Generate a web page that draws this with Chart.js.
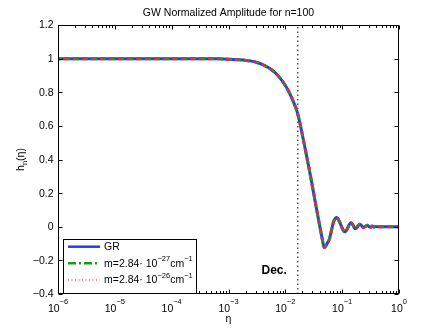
<!DOCTYPE html>
<html><head><meta charset="utf-8">
<script src="https://cdn.jsdelivr.net/npm/chart.js@4/dist/chart.umd.min.js"></script>
<style>html,body{margin:0;padding:0;background:#fff}#wrap{width:440px;height:331px}</style>
</head><body><div id="wrap"><canvas id="c" width="440" height="331"></canvas></div>
<script>
const titleText = 'GW Normalized Amplitude for n=100';
const xAxisLabel = 'η';
const yAxisLabel = ['h', 'n', '(η)'];
// log10(eta) sample positions
const logEta = [-6, -5, -4, -3.5, -3.2, -3.0, -2.8, -2.6, -2.5, -2.4, -2.3, -2.2, -2.1, -2.0, -1.95, -1.9, -1.85, -1.8, -1.75, -1.7, -1.65, -1.6, -1.55, -1.5, -1.45, -1.4, -1.36, -1.335, -1.314, -1.29, -1.26, -1.227, -1.19, -1.156, -1.13, -1.105, -1.08, -1.04, -1.0, -0.975, -0.951, -0.925, -0.9, -0.87, -0.845, -0.82, -0.795, -0.775, -0.75, -0.72, -0.687, -0.66, -0.629, -0.6, -0.559, -0.53, -0.5, -0.47, -0.44, -0.41, -0.38, -0.2, 0];
const hGR  = [1, 1, 1, 1, 0.999, 0.997, 0.993, 0.985, 0.977, 0.965, 0.947, 0.922, 0.887, 0.840, 0.81, 0.776, 0.737, 0.692, 0.627, 0.546, 0.462, 0.377, 0.289, 0.197, 0.104, 0.014, -0.056, -0.100, -0.124, -0.115, -0.097, -0.075, -0.025, 0.025, 0.045, 0.055, 0.050, 0.025, -0.008, -0.024, -0.030, -0.022, -0.005, 0.015, 0.024, 0.016, 0.0, -0.012, -0.008, 0.006, 0.015, 0.007, -0.004, 0.0, 0.009, 0.002, -0.003, 0.004, -0.002, 0.002, 0, 0, 0];
const hM27 = [1, 1, 1, 1, 0.999, 0.997, 0.993, 0.985, 0.977, 0.965, 0.947, 0.922, 0.887, 0.840, 0.81, 0.776, 0.737, 0.692, 0.627, 0.546, 0.462, 0.377, 0.289, 0.197, 0.104, 0.014, -0.056, -0.100, -0.124, -0.115, -0.097, -0.075, -0.025, 0.025, 0.045, 0.055, 0.050, 0.025, -0.008, -0.024, -0.030, -0.022, -0.005, 0.015, 0.024, 0.016, 0.0, -0.012, -0.008, 0.006, 0.015, 0.007, -0.004, 0.0, 0.009, 0.002, -0.003, 0.004, -0.002, 0.002, 0, 0, 0];
const hM26 = [1, 1, 1, 1, 0.999, 0.997, 0.993, 0.985, 0.977, 0.965, 0.947, 0.922, 0.887, 0.840, 0.81, 0.776, 0.737, 0.692, 0.627, 0.546, 0.462, 0.377, 0.289, 0.197, 0.104, 0.014, -0.056, -0.100, -0.124, -0.115, -0.097, -0.075, -0.025, 0.025, 0.045, 0.055, 0.050, 0.025, -0.008, -0.024, -0.030, -0.022, -0.005, 0.015, 0.024, 0.016, 0.0, -0.012, -0.008, 0.006, 0.015, 0.007, -0.004, 0.0, 0.009, 0.002, -0.003, 0.004, -0.002, 0.002, 0, 0, 0];
const xTickExps = [-6, -5, -4, -3, -2, -1, 0];
const yTickValues = [-0.4, -0.2, 0, 0.2, 0.4, 0.6, 0.8, 1, 1.2];
const etaDec = 0.0166;
const decLabel = 'Dec.';
const legendEntries = [
  {base: 'GR'},
  {base: 'm=2.84· 10', sup1: '−27', mid: 'cm', sup2: '−1'},
  {base: 'm=2.84· 10', sup1: '−26', mid: 'cm', sup2: '−1'}
];

const FONT = '"Liberation Sans", Arial, Helvetica, sans-serif';
const toPts = arr => arr.map((h, i) => ({x: Math.pow(10, logEta[i]), y: h}));

const decorations = {
  id: 'decorations',
  afterDraw(chart) {
    const ctx = chart.ctx, a = chart.chartArea, xs = chart.scales.x, ys = chart.scales.y;
    const L = Math.round(a.left) + 0.5, R = Math.round(a.right) - 0.5, T = Math.round(a.top) + 0.5, B = Math.round(a.bottom) - 0.5;
    ctx.save();
    ctx.strokeStyle = '#000'; ctx.lineWidth = 1;
    ctx.strokeRect(L, T, R - L, B - T);
    ctx.beginPath();
    yTickValues.forEach(v => {
      const y = Math.round(ys.getPixelForValue(v)) + 0.5;
      ctx.moveTo(L, y); ctx.lineTo(L + 4, y);
      ctx.moveTo(R, y); ctx.lineTo(R - 4, y);
    });
    xTickExps.forEach(e => {
      const x = Math.round(xs.getPixelForValue(Math.pow(10, e))) + 0.5;
      ctx.moveTo(x, B); ctx.lineTo(x, B - 4);
      ctx.moveTo(x, T); ctx.lineTo(x, T + 4);
      if (e < 0) for (let k = 2; k <= 9; k++) {
        const xm = Math.round(xs.getPixelForValue(k * Math.pow(10, e))) + 0.5;
        ctx.moveTo(xm, B); ctx.lineTo(xm, B - 2.5);
        ctx.moveTo(xm, T); ctx.lineTo(xm, T + 2.5);
      }
    });
    ctx.stroke();
    ctx.fillStyle = '#000';
    // y tick labels
    ctx.textBaseline = 'middle';
    ctx.textAlign = 'right';
    ctx.font = '10.5px ' + FONT;
    yTickValues.forEach(v => {
      const r = Math.round(v * 10) / 10;
      const s = (r < 0 ? '−' : '') + String(Math.abs(r));
      ctx.fillText(s, 53.5, ys.getPixelForValue(v) + 0.5);
    });
    // x tick labels with superscripts
    xTickExps.forEach(e => {
      const x = xs.getPixelForValue(Math.pow(10, e));
      const sup = e === 0 ? '0' : '−' + Math.abs(e);
      ctx.font = '10.5px ' + FONT; const w1 = ctx.measureText('10').width;
      ctx.font = '7.5px ' + FONT; const w2 = ctx.measureText(sup).width;
      const x0 = x - (w1 + w2) / 2;
      ctx.textAlign = 'left';
      ctx.font = '10.5px ' + FONT; ctx.fillText('10', x0, 309.5);
      ctx.font = '7.5px ' + FONT; ctx.fillText(sup, x0 + w1, 302);
    });
    ctx.textAlign = 'center';
    ctx.font = '10.5px ' + FONT;
    ctx.fillText(titleText, (a.left + a.right) / 2, 13.5);
    ctx.fillText(xAxisLabel, (a.left + a.right) / 2, 319.5);
    ctx.save();
    ctx.translate(21, (a.top + a.bottom) / 2);
    ctx.rotate(-Math.PI / 2);
    ctx.font = '10.5px ' + FONT; const wh = ctx.measureText(yAxisLabel[0]).width; const wp = ctx.measureText(yAxisLabel[2]).width;
    ctx.font = '7.5px ' + FONT; const wn = ctx.measureText(yAxisLabel[1]).width;
    let sx = -(wh + wn + wp) / 2;
    ctx.textAlign = 'left';
    ctx.font = '10.5px ' + FONT; ctx.fillText(yAxisLabel[0], sx, 0); sx += wh;
    ctx.font = '7.5px ' + FONT; ctx.fillText(yAxisLabel[1], sx, 3.5); sx += wn;
    ctx.font = '10.5px ' + FONT; ctx.fillText(yAxisLabel[2], sx, 0);
    ctx.restore();
    ctx.font = 'bold 12px ' + FONT;
    ctx.textAlign = 'right';
    ctx.fillText(decLabel, xs.getPixelForValue(etaDec) - 11, 270.5);
    // legend
    const lx = 63.5, ly = 239.5, lw = 133, lh = 54;
    ctx.fillStyle = '#fff'; ctx.fillRect(lx, ly, lw, lh);
    ctx.strokeStyle = '#000'; ctx.lineWidth = 1; ctx.setLineDash([]);
    ctx.strokeRect(lx, ly, lw, lh);
    const rows = [246.7, 263.3, 280];
    const styles = [
      {c: '#1f3dff', w: 2.5, d: []},
      {c: '#1a9a1a', w: 2.5, d: [8, 3, 2, 3]},
      {c: '#ff5a5a', w: 1.5, d: [1, 2.5]}
    ];
    rows.forEach((y, i) => {
      const s = styles[i];
      ctx.strokeStyle = s.c; ctx.lineWidth = s.w; ctx.setLineDash(s.d);
      ctx.beginPath(); ctx.moveTo(68, y); ctx.lineTo(100, y); ctx.stroke();
      ctx.setLineDash([]);
      const en = legendEntries[i];
      ctx.fillStyle = '#000'; ctx.textAlign = 'left';
      let tx = 104;
      ctx.font = '10.5px ' + FONT; ctx.fillText(en.base, tx, y + 0.5); tx += ctx.measureText(en.base).width;
      if (en.sup1) {
        ctx.font = '7.5px ' + FONT; ctx.fillText(en.sup1, tx, y - 4); tx += ctx.measureText(en.sup1).width;
        ctx.font = '10.5px ' + FONT; ctx.fillText(en.mid, tx, y + 0.5); tx += ctx.measureText(en.mid).width;
        ctx.font = '7.5px ' + FONT; ctx.fillText(en.sup2, tx, y - 4);
      }
    });
    ctx.restore();
  }
};

new Chart(document.getElementById('c'), {
  type: 'scatter',
  data: {
    datasets: [
      {label: 'GR', data: toPts(hGR), showLine: true, borderColor: '#1f3dff', borderWidth: 3, pointRadius: 0, cubicInterpolationMode: 'monotone', order: 2},
      {label: 'm=2.84e-27', data: toPts(hM27), showLine: true, borderColor: '#1a9a1a', borderWidth: 3, borderDash: [3, 6], borderDashOffset: 0, pointRadius: 0, cubicInterpolationMode: 'monotone', order: 1},
      {label: 'm=2.84e-26', data: toPts(hM26), showLine: true, borderColor: '#ff2020', borderWidth: 3, borderDash: [3, 6], borderDashOffset: 3, pointRadius: 0, cubicInterpolationMode: 'monotone', order: 0},
      {label: 'Dec', data: [{x: etaDec, y: -0.4}, {x: etaDec, y: 1.2}], showLine: true, borderColor: '#000', borderWidth: 1, borderDash: [1.5, 3], pointRadius: 0, tension: 0, order: 3}
    ]
  },
  options: {
    responsive: false, animation: false, devicePixelRatio: 1,
    layout: {padding: {top: 25, right: 41, bottom: 0, left: 0}},
    plugins: {legend: {display: false}, tooltip: {enabled: false}, title: {display: false}},
    scales: {
      x: {type: 'logarithmic', min: 1e-6, max: 1, grid: {display: false}, border: {display: false}, ticks: {display: false},
          afterFit: s => { s.height = 37; }},
      y: {type: 'linear', min: -0.4, max: 1.2, grid: {display: false}, border: {display: false},
          ticks: {display: false},
          afterFit: s => { s.width = 58; }}
    }
  },
  plugins: [decorations]
});
</script>
</body></html>
